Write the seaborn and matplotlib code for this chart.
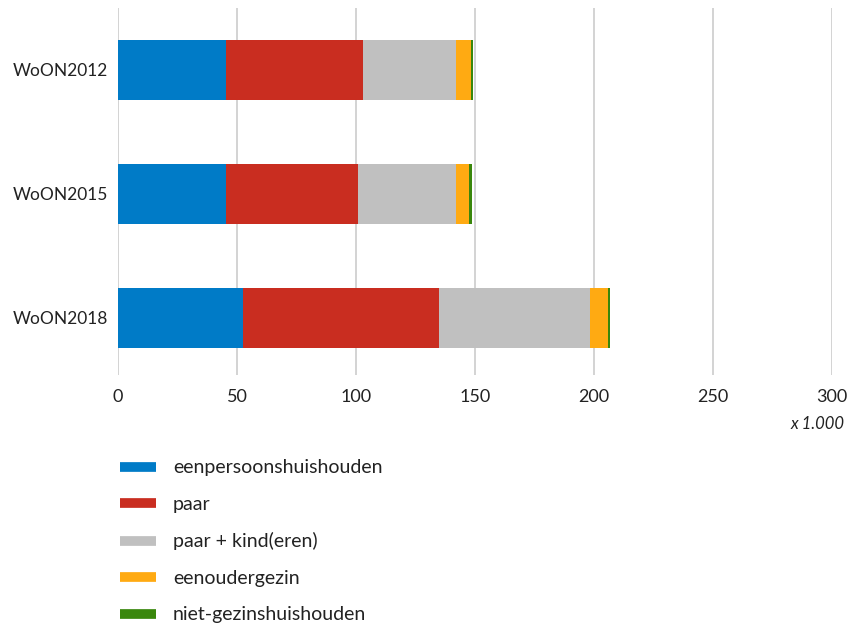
import numpy as np
import pandas as pd
import matplotlib
matplotlib.use("Agg")
import matplotlib.pyplot as plt
import seaborn as sns
from matplotlib.lines import Line2D

surveys = ["WoON2012", "WoON2015", "WoON2018"]
categories = ["eenpersoonshuishouden", "paar", "paar + kind(eren)",
              "eenoudergezin", "niet-gezinshuishouden"]
eenpersoons = [45.4, 45.4, 52.5]
paar = [57.5, 55.4, 82.4]
paar_kind = [39.1, 41.2, 63.4]
eenouder = [6.3, 5.5, 7.6]
niet_gezins = [0.9, 1.2, 0.8]
colors = ["#007BC7", "#C92D20", "#C0C0C0", "#FFAA12", "#39870C"]

sns.set_style("white")
plt.rcParams["font.family"] = ["Lato", "DejaVu Sans"]

series = [eenpersoons, paar, paar_kind, eenouder, niet_gezins]
cum = np.cumsum(np.array(series), axis=0)

fig = plt.figure(figsize=(8.49, 6.27), dpi=100)
ax = fig.add_axes([118 / 849, 1 - 375 / 627, (832 - 118) / 849, (375 - 8) / 627])

# draw cumulative totals from largest to smallest so they overlay as stacks
for i in reversed(range(len(categories))):
    df = pd.DataFrame({"survey": surveys, "value": cum[i]})
    sns.barplot(data=df, x="value", y="survey", color=colors[i],
                width=0.48, saturation=1, linewidth=0, ax=ax, zorder=3)

ax.set_xlim(0, 300)
ax.set_ylim(2.46, -0.5)
ax.set_xticks(range(0, 301, 50))
ax.grid(axis="x", color="#cccccc", linewidth=1.2, zorder=0)
ax.grid(axis="y", visible=False)
for s in ax.spines.values():
    s.set_visible(False)
ax.set_xlabel("")
ax.set_ylabel("")
ax.tick_params(axis="x", length=0, pad=10, labelsize=13, colors="#222222")
ax.tick_params(axis="y", length=0, pad=7, labelsize=12.5, colors="#222222")

fig.text(845 / 849, 1 - 424 / 627, "x 1.000", ha="right", va="center",
         fontsize=12, style="italic", color="#222222")

handles = [Line2D([0], [0], color=c, linewidth=7, solid_capstyle="butt")
           for c in colors]
fig.legend(handles, categories, loc="upper left",
           bbox_to_anchor=(102 / 849, 1 - 442 / 627), frameon=False,
           fontsize=14, handlelength=1.9, handletextpad=0.85,
           labelspacing=1.0, labelcolor="#222222")

fig.savefig("out.png", dpi=100)
